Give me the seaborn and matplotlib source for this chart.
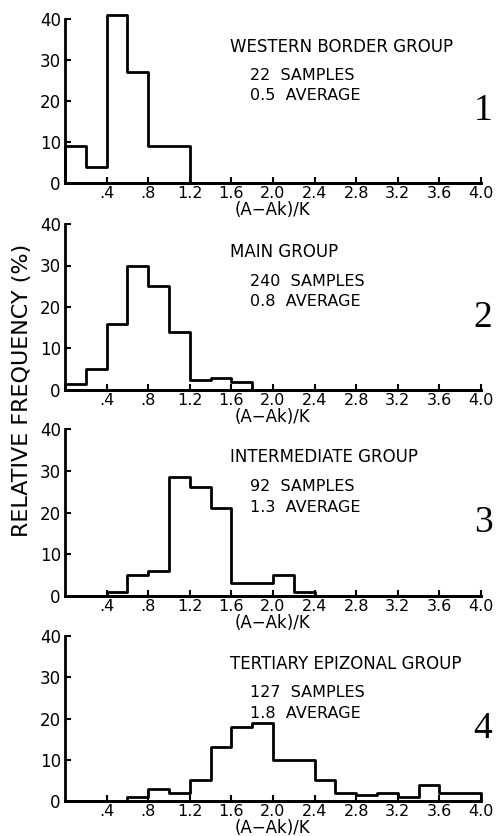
import numpy as np
import pandas as pd
import matplotlib
matplotlib.use("Agg")
import matplotlib.pyplot as plt
import seaborn as sns

# bins of (A-Ak)/K, width 0.2 from 0 to 4.0
bin_edges = [round(0.2 * i, 1) for i in range(21)]
bin_left = bin_edges[:-1]

# relative frequency (%) per bin
western = [9, 4, 41, 27, 9, 9, 0, 0, 0, 0, 0, 0, 0, 0, 0, 0, 0, 0, 0, 0]
main = [1.5, 5, 16, 30, 25, 14, 2.5, 3, 2, 0, 0, 0, 0, 0, 0, 0, 0, 0, 0, 0]
intermediate = [0, 0, 1, 5, 6, 28.5, 26, 21, 3, 3, 5, 1, 0, 0, 0, 0, 0, 0, 0, 0]
tertiary = [0, 0, 0, 1, 3, 2, 5, 13, 18, 19, 10, 10, 5, 2, 1.5, 2, 1, 4, 2, 2]

group_names = ["WESTERN BORDER GROUP", "MAIN GROUP",
               "INTERMEDIATE GROUP", "TERTIARY EPIZONAL GROUP"]
sample_counts = [22, 240, 92, 127]
averages = ["0.5", "0.8", "1.3", "1.8"]
panel_numbers = ["1", "2", "3", "4"]

xtick_values = [0.4, 0.8, 1.2, 1.6, 2.0, 2.4, 2.8, 3.2, 3.6, 4.0]
xtick_labels = [".4", ".8", "1.2", "1.6", "2.0", "2.4", "2.8", "3.2", "3.6", "4.0"]
ytick_values = [0, 10, 20, 30, 40]

sns.set_style("ticks", {"text.color": "black", "axes.labelcolor": "black",
                        "xtick.color": "black", "ytick.color": "black",
                        "axes.edgecolor": "black"})
plt.rcParams["font.family"] = ["DejaVu Sans"]

fig = plt.figure(figsize=(5.01, 8.36), dpi=100)

# axes boxes in pixels: (bottom y of 0, top y of 40)
W, H = 501, 836
boxes = [(183, 19), (390, 224), (596, 429), (801, 636)]
left_px, right_px = 65, 481

series = [western, main, intermediate, tertiary]
for i, vals in enumerate(series):
    y0, y1 = boxes[i]
    ax = fig.add_axes([left_px / W, 1 - y0 / H, (right_px - left_px) / W, (y0 - y1) / H])
    df = pd.DataFrame({"x": bin_left, "freq": vals})
    sns.histplot(data=df, x="x", weights="freq", bins=bin_edges, element="step",
                 fill=True, color="black", facecolor="none", edgecolor="black",
                 linewidth=2, clip_on=False, ax=ax)
    ax.set_xlim(0, 4.0)
    ax.set_ylim(0, 40)
    sns.despine(ax=ax)
    for s in ["left", "bottom"]:
        ax.spines[s].set_linewidth(2)
    ax.set_xticks(xtick_values)
    ax.set_xticklabels(xtick_labels)
    ax.set_yticks(ytick_values)
    ax.tick_params(axis="both", direction="in", length=4, width=1.5)
    ax.tick_params(axis="x", pad=2, labelsize=11.5)
    ax.tick_params(axis="y", pad=3, labelsize=12)
    ax.set_xlabel("(A\u2212Ak)/K", fontsize=12, labelpad=0)
    ax.set_ylabel("")

    ax.text(1.59, 33.2, group_names[i], fontsize=12, ha="left", va="center")
    ax.text(1.78, 26.2, f"{sample_counts[i]}  SAMPLES", fontsize=11.5, ha="left", va="center")
    ax.text(1.78, 21.3, f"{averages[i]}  AVERAGE", fontsize=11.5, ha="left", va="center")
    ax.text(4.02, 17.5, panel_numbers[i], fontsize=27, family="Liberation Serif",
            ha="center", va="center", clip_on=False)

fig.text(22 / W, 1 - 390 / H, "RELATIVE FREQUENCY (%)", rotation=90,
         fontsize=16, ha="center", va="center")

fig.savefig("out.png", dpi=100)
